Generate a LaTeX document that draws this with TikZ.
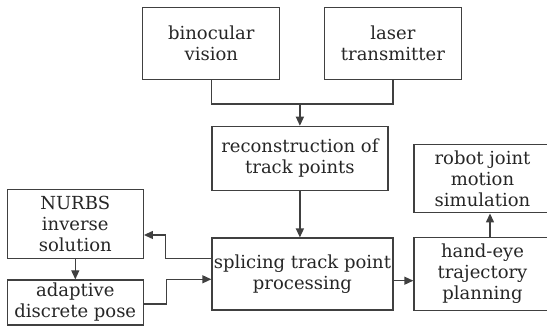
\documentclass[tikz,border=0pt]{standalone}
\usepackage{fontspec}
\setmainfont{DejaVu Serif}
\usepackage{tikz}
\usetikzlibrary{arrows.meta, calc}

\definecolor{boxline}{HTML}{404040}
\definecolor{boxtext}{HTML}{262626}
\tikzset{
  block/.style={draw=boxline, line width=1.3pt, align=center, inner sep=0pt,
    text=boxtext, font=\fontsize{18}{21}\selectfont},
  link/.style={draw=boxline, line width=1.3pt},
  arr/.style={link, -{Triangle[length=9pt,width=8pt]}}
}

\begin{document}
\begin{tikzpicture}[x=1pt, y=1pt]
\useasboundingbox (0,0) rectangle (547,326);
\clip (0,0) rectangle (547,326);
% input boxes
\node[block, minimum width=137pt, minimum height=72pt] (bino) at (211.3,282.4) {binocular\\vision};
\node[block, minimum width=137pt, minimum height=72pt] (laser) at (392.9,282.4) {laser\\transmitter};
\node[block, minimum width=176pt, minimum height=64pt] (recon) at (299.9,167.6) {reconstruction of\\track points};
\node[block, minimum width=181pt, minimum height=72pt] (splice) at (302.5,51.9) {splicing track point\\processing};
% left branch
\node[block, minimum width=136pt, minimum height=69pt] (nurbs) at (75.3,102.2) {NURBS\\inverse\\solution};
\node[block, minimum width=136pt, minimum height=45pt] (adapt) at (75.3,23.5) {adaptive\\discrete pose};
% right branch
\node[block, minimum width=137pt, minimum height=73pt] (hand) at (482.5,52) {hand-eye\\trajectory\\planning};
\node[block, minimum width=137pt, minimum height=68pt] (robot) at (482.5,147.2) {robot joint\\motion\\simulation};

% merge of the two inputs
\coordinate (join) at ($(recon.north)+(0,21.7pt)$);
\draw[link] (bino.south) |- (join) -| (laser.south);
\draw[arr] (join) -- (recon.north);
\draw[arr] (recon.south) -- (recon.south |- splice.north);

\draw[arr] ([yshift=15.8pt]splice.west) -- ++(-46pt,0) |- ([yshift=-11.2pt]nurbs.east);
\draw[arr] (nurbs.south) -- (adapt.north);
\draw[arr] ([yshift=-1.5pt]adapt.east) -- ++(22.4pt,0) |- ([yshift=-5.2pt]splice.west);

\draw[arr] ([yshift=-6.6pt]splice.east) -- ([yshift=-6.6pt]splice.east -| hand.west);
\draw[arr] ([xshift=7.5pt]hand.north) -- ([xshift=7.5pt]hand.north |- robot.south);
\end{tikzpicture}
\end{document}
